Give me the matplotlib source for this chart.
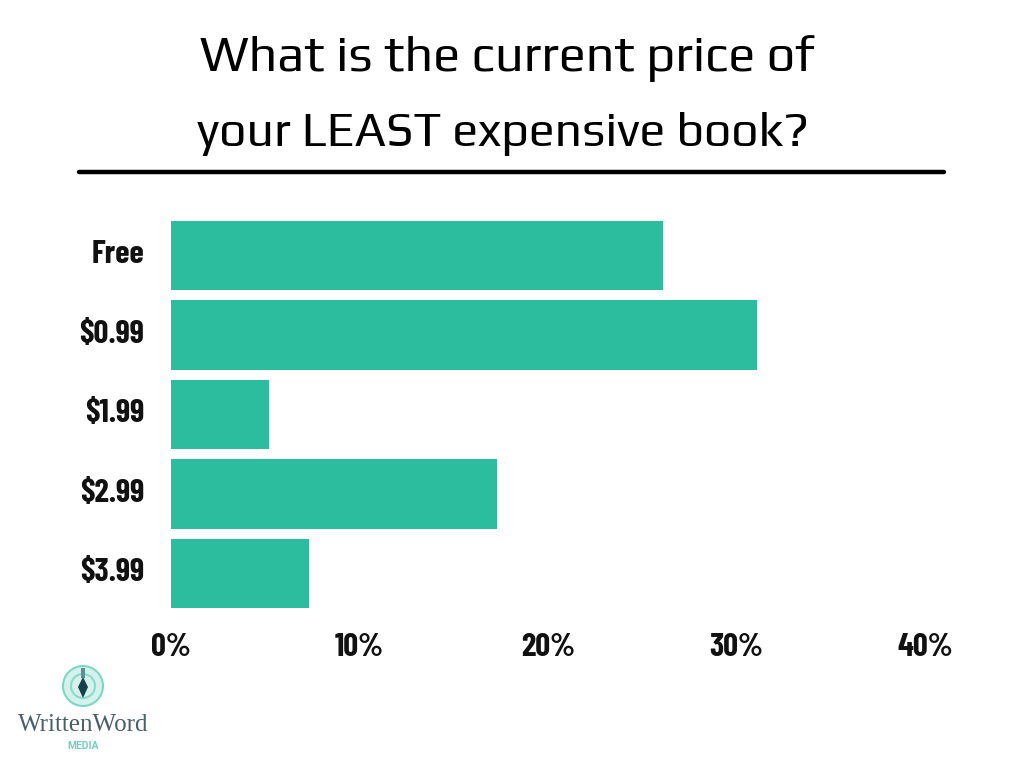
import matplotlib
matplotlib.use("Agg")
import matplotlib.pyplot as plt
from matplotlib.patches import Circle, Polygon, Rectangle

categories = ["Free", "$0.99", "$1.99", "$2.99", "$3.99"]
values = [26.1, 31.1, 5.2, 17.3, 7.3]
xticks = [0, 10, 20, 30, 40]
xticklabels = ["0%", "10%", "20%", "30%", "40%"]
title_lines = ["What is the current price of", "your LEAST expensive book?"]

TICK_FONT = ["Barlow Condensed", "Roboto"]
TITLE_FONT = ["Play", "Roboto"]

W, H = 1024, 768
fig = plt.figure(figsize=(W/100, H/100), dpi=100, facecolor="white")
ax = fig.add_axes([171/W, 1-613.3/H, (925-171)/W, (613.3-215.8)/H])
ypos = list(range(len(categories)))
ax.barh(ypos, values, height=0.875, color="#2bbd9e")
ax.set_ylim(4.5, -0.5)
ax.set_xlim(0, 40)
for s in ax.spines.values():
    s.set_visible(False)
ax.set_yticks(ypos)
ax.set_yticklabels([])
for y, cat in zip(ypos, categories):
    ax.annotate(cat, xy=(0, y), xycoords="data", xytext=(-19.4, 2.6), textcoords="offset points",
                ha="right", va="center_baseline", fontsize=23.5, fontweight="bold",
                family=TICK_FONT, color="#111111", annotation_clip=False)
ax.set_xticks(xticks)
ax.set_xticklabels(xticklabels, fontsize=23.5, fontweight="bold", family=TICK_FONT, color="#111111")
ax.tick_params(axis="y", length=0)
ax.tick_params(axis="x", length=0, pad=14)

fig.text(507/W, 1-59/H, title_lines[0], ha="center", va="center", fontsize=36.2, family=TITLE_FONT, color="black")
fig.text(503/W, 1-134/H, title_lines[1], ha="center", va="center", fontsize=34.6, family=TITLE_FONT, color="black")
fig.add_artist(plt.Line2D([79/W, 944/W], [1-172/H, 1-172/H], color="black", lw=3.2, solid_capstyle="round"))

# logo
logo = fig.add_axes([0, 0, 1, 1], facecolor="none")
logo.set_xlim(0, W); logo.set_ylim(H, 0); logo.axis("off")
logo.add_patch(Circle((83, 686), 20, facecolor="#d5f1ec", edgecolor="#7fd6c6", lw=1.5))
logo.add_patch(Circle((83, 686), 12, facecolor="none", edgecolor="#8adbcc", lw=1.5))
logo.add_patch(Rectangle((81, 668), 4, 10, facecolor="#5f8f96", edgecolor="none"))
logo.add_patch(Polygon([(83, 677), (88, 687), (83, 698), (78, 687)], facecolor="#17404a", edgecolor="none"))
fig.text(83/W, 1-725/H, "WrittenWord", ha="center", va="center", fontsize=18, family="Liberation Serif", color="#4a6068")
fig.text(83/W, 1-746/H, "MEDIA", ha="center", va="center", fontsize=7.5, fontweight="bold", family="Roboto", color="#6fd0bf")
fig.savefig("out.png", dpi=100)
